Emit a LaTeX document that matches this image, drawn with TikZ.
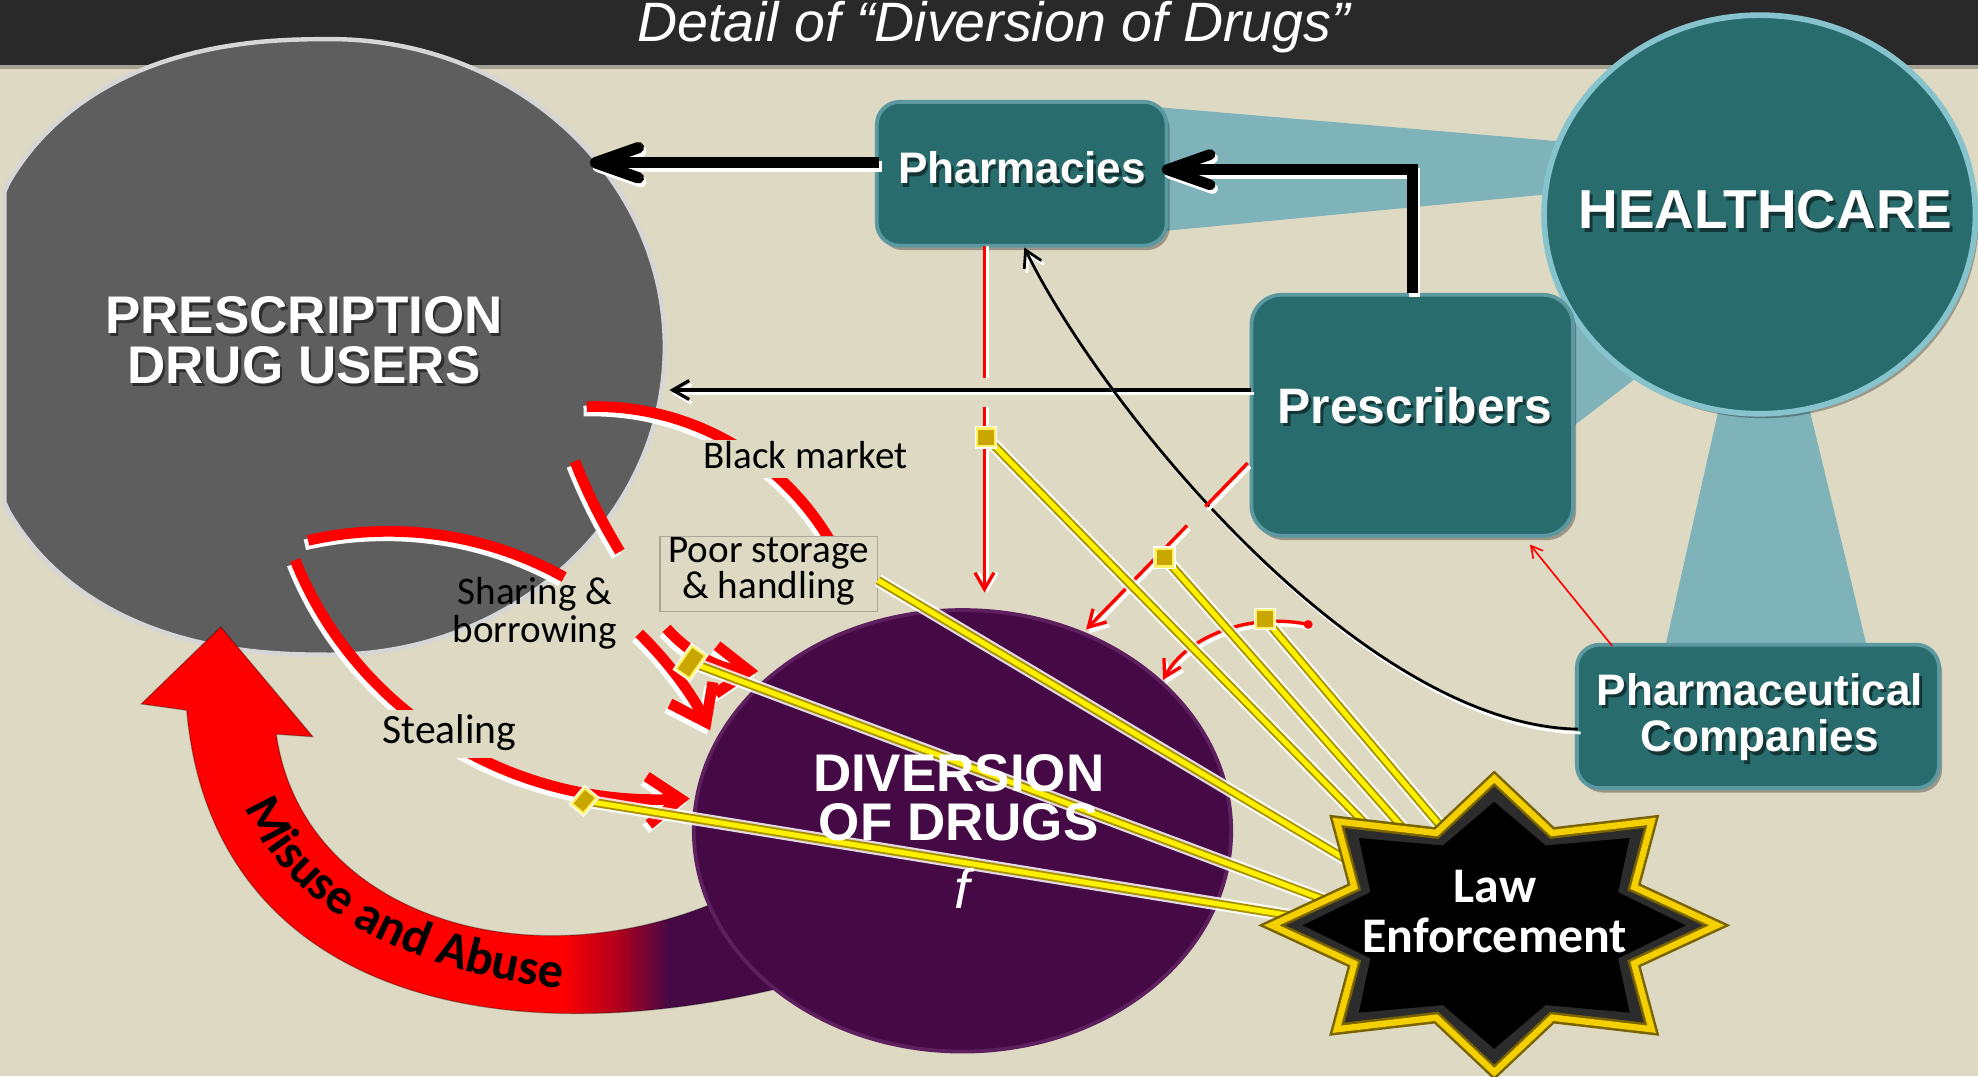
\documentclass[tikz,border=0pt]{standalone}
\usepackage{fontspec}
\setmainfont{Liberation Sans}
\newfontfamily\calfont{Carlito}
\usetikzlibrary{shapes.geometric,arrows.meta,decorations.text}
\definecolor{bgc}{HTML}{DDD9C3}
\definecolor{barc}{HTML}{292929}
\definecolor{boxc}{HTML}{286C6E}
\definecolor{boxedge}{HTML}{5B98A0}
\definecolor{hcedge}{HTML}{86C3CC}
\definecolor{lteal}{HTML}{7DB3B9}
\definecolor{greyc}{HTML}{5E5E5E}
\definecolor{greyedge}{HTML}{D6D6D6}
\definecolor{purc}{HTML}{450945}
\definecolor{puredge}{HTML}{5E1F5E}
\definecolor{redc}{HTML}{FF0000}
\definecolor{midred}{HTML}{B0001E}
\definecolor{ydark}{HTML}{A89200}
\definecolor{ylight}{HTML}{FFF000}
\definecolor{sqc}{HTML}{C9A700}
\definecolor{sqedge}{HTML}{FFF26A}
\definecolor{staredge}{HTML}{F5D000}
\definecolor{stardark}{HTML}{7A6400}
\definecolor{starbevel}{HTML}{2C2C2C}
\definecolor{lblbox}{HTML}{A9A696}
\newcommand\shtext[4]{%
  \node[#3,text=black,opacity=0.5,xshift=2pt,yshift=-2.5pt] (#1sh) at #2 {#4};
  \node[#3] (#1) at #2 {#4};}
\def\starpath{plot[samples at={0,...,15}] ({1184.5+176.5*(1-0.32*mod(\x,2))*cos(\x*22.5)},{733.5+116.5*(1-0.32*mod(\x,2))*sin(\x*22.5)}) -- cycle}
\def\starinner{plot[samples at={0,...,15}] ({1184.5+0.86*176.5*(1-0.3*mod(\x,2))*cos(\x*22.5)},{733.5+0.84*116.5*(1-0.3*mod(\x,2))*sin(\x*22.5)}) -- cycle}
\def\misusepath{(148,563) .. controls (168,790) and (400,845) .. (650,775) -- (590,705) .. controls (430,785) and (240,730) .. (219,582) -- (248,584) -- (175,497) -- (112,558) -- cycle}
\def\greypath{(262,31) arc[start angle=-90,end angle=90,x radius=265,y radius=244]
  -- plot[domain=90:180,samples=45,variable=\t] ({max(3.5,262-285*(abs(cos(\t))+0.0001)^0.85)},{275+244*(abs(sin(\t))+0.0001)^0.85})
  -- plot[domain=180:270,samples=45,variable=\t] ({max(3.5,262-285*(abs(cos(\t))+0.0001)^0.85)},{275-244*(abs(sin(\t))+0.0001)^0.85}) -- cycle}
\begin{document}
\begin{tikzpicture}[x=1pt,y=-1pt,
  tbox/.style={rectangle,rounded corners=18pt,fill=boxc,draw=boxedge,line width=3pt,inner sep=0pt,
    preaction={fill=black,opacity=0.3,transform canvas={xshift=2.5pt,yshift=-3.5pt}}},
  rarc/.style={draw=redc,line width=8.5pt},
  rsh/.style={draw=white,line width=8.5pt,transform canvas={xshift=-2.5pt,yshift=-3.5pt}},
  bigtip/.style={-{Straight Barb[length=26pt,width=38pt]}},
  thk/.style={draw=black,line width=9pt},
  thktip/.style={-{Straight Barb[length=34pt,width=24pt,round]}},
  blk/.style={draw=black,line width=2.6pt},
  rthin/.style={draw=redc,line width=2.6pt},
  wsh/.style={draw=white,transform canvas={xshift=2pt,yshift=-3pt}},
  wshr/.style={draw=white,transform canvas={xshift=2.5pt}},
  thintip/.style={-{Straight Barb[length=13pt,width=15pt]}},
  ylw/.style={draw=ydark,line width=7pt,preaction={draw=white,opacity=0.85,line width=10.5pt},postaction={draw=ylight,line width=4pt}},
  ysq/.style={rectangle,inner sep=0pt,minimum size=14pt,fill=sqc,draw=sqedge,line width=1.8pt,preaction={draw=white,line width=4pt}},
  lbl/.style={inner sep=0pt,font=\calfont\fontsize{31}{31}\selectfont}
  ]
\useasboundingbox (0,0) rectangle (1568,853);
\fill[bgc] (0,0) rectangle (1568,853);
\fill[barc] (0,0) rectangle (1568,51.7);
\fill[black,opacity=0.25] (0,51.7) rectangle (1568,54.5);
\node[anchor=base,text=white,inner sep=0pt,font=\itshape\fontsize{44}{44}\selectfont] (title) at (787.5,33) {Detail of “Diversion of Drugs”};

% light teal connectors of HEALTHCARE
\fill[lteal] (900,83.4) -- (1270,114.9) -- (1270,149.9) -- (900,185.3) -- cycle;
\fill[lteal] (1200,262) -- (1320,240) -- (1320,282) -- (1200,374) -- cycle;
\fill[lteal] (1367.9,300) -- (1428.5,300) -- (1482.9,525) -- (1317.3,525) -- cycle;

\node[ellipse,fill=boxc,draw=hcedge,line width=4.5pt,inner sep=0pt,minimum width=342pt,minimum height=316pt,
  preaction={fill=black,opacity=0.3,transform canvas={xshift=2.5pt,yshift=-3.5pt}}] (hc) at (1395,170) {};
\node[tbox,minimum width=229.7pt,minimum height=114pt] (pharm) at (809.9,137.75) {};
\node[tbox,rounded corners=24pt,minimum width=255pt,minimum height=191pt] (pres) at (1119.5,329.2) {};
\node[tbox,minimum width=287pt,minimum height=113.7pt] (pco) at (1393.5,567.9) {};

% prescription drug users
\path[fill=greyc,draw=greyedge,line width=3.5pt] \greypath;
\coordinate (pdu) at (262,275);

% misuse and abuse arrow
\begin{scope}
\clip \misusepath;
\fill[redc] (100,480) rectangle (446,860);
\shade[left color=redc,right color=midred] (445,480) rectangle (491,860);
\shade[left color=midred,right color=purc] (490,480) rectangle (531,860);
\fill[purc] (530,480) rectangle (660,860);
\end{scope}
\draw[black,opacity=0.3,line width=1pt] \misusepath;
\path[decorate,decoration={text along path,text={|\calfont\bfseries\fontsize{40}{40}\selectfont|Misuse and Abuse}}] (195,640) .. controls (230,735) and (370,792) .. (530,787);

% thick red arcs
\draw[rsh] (465.1,322.4) arc[start angle=-91.8,end angle=-30,radius=216];
\draw[rarc] (465.1,322.4) arc[start angle=-91.8,end angle=-30,radius=216];
\draw[rsh] (455.7,365.7) .. controls (466,392) and (478,415) .. (491.4,437.3);
\draw[rarc] (455.7,365.7) .. controls (466,392) and (478,415) .. (491.4,437.3);
\draw[rsh,bigtip] (528.4,498.1) .. controls (548,520) and (572,531) .. (601,532);
\draw[rarc,bigtip] (528.4,498.1) .. controls (548,520) and (572,531) .. (601,532);
\draw[rsh] (244.2,428.4) arc[start angle=-102.9,end angle=-60.8,radius=285.5];
\draw[rarc] (244.2,428.4) arc[start angle=-102.9,end angle=-60.8,radius=285.5];
\draw[rsh,bigtip] (506.7,502.1) arc[start angle=-45.8,end angle=-26.6,radius=285.5];
\draw[rarc,bigtip] (506.7,502.1) arc[start angle=-45.8,end angle=-26.6,radius=285.5];
\draw[rsh,bigtip] (234,444) .. controls (280,560) and (400,640) .. (546.7,633);
\draw[rarc,bigtip] (234,444) .. controls (280,560) and (400,640) .. (546.7,633);

% labels of arcs
\node[lbl,anchor=base,fill=bgc,text height=22.4pt,text depth=8pt] (bm) at (638.5,371) {Black market};
\node[lbl,anchor=base,fill=bgc,text height=26.3pt,text depth=11.7pt,font=\calfont\fontsize{33}{33}\selectfont] (st) at (356.2,589.3) {Stealing};
\node[rectangle,draw=lblbox,line width=1pt,fill=bgc,minimum width=172.6pt,minimum height=59.5pt,inner sep=0pt] (poorbox) at (609.4,455.15) {};
\node[lbl,align=center,font=\calfont\fontsize{31}{29.1}\selectfont] (poor) at (609.4,452.9) {Poor storage\\\& handling};
\node[lbl,align=center,font=\calfont\fontsize{31}{29.7}\selectfont] (sb) at (424,486.1) {Sharing \&\\borrowing};

% diversion of drugs
\node[ellipse,fill=purc,draw=puredge,line width=3pt,inner sep=0pt,minimum width=426pt,minimum height=350pt] (div) at (763,658.6) {};

% black connectors
\coordinate (pharmW) at (697,129);
\coordinate (pduA) at (467.6,129);
\draw[thk,wsh,thktip] (pharmW) -- (pduA);
\draw[thk,thktip] (pharmW) -- (pduA);
\coordinate (presTop) at (1119.5,134.5);
\coordinate (pharmE) at (921,134.5);
\draw[thk,line width=8.5pt,wsh,thktip] (pres.north) -- (presTop) -- (pharmE);
\draw[thk,line width=8.5pt,thktip] (pres.north) -- (presTop) -- (pharmE);
\coordinate (presW) at (992,309.2);
\coordinate (pduB) at (530.7,309.2);
\draw[blk,wsh,thintip] (presW) -- (pduB);
\draw[blk,thintip] (presW) -- (pduB);
\coordinate (pcoW) at (1251,578);
\coordinate (pharmS) at (812,196.2);
\draw[blk,line width=2.2pt,wsh,thintip] (pcoW) .. controls (1080,575) and (875,325) .. (pharmS);
\draw[blk,line width=2.2pt,thintip] (pcoW) .. controls (1080,575) and (875,325) .. (pharmS);

% thin red connectors
\coordinate (pharmB) at (780.4,195);
\coordinate (gapE1) at (780.4,300);
\coordinate (gapE2) at (780.4,322.4);
\coordinate (divTop) at (780.4,469.6);
\draw[rthin,wshr] (pharmB) -- (gapE1);
\draw[rthin] (pharmB) -- (gapE1);
\draw[rthin,wshr,thintip] (gapE2) -- (divTop);
\draw[rthin,thintip] (gapE2) -- (divTop);
\coordinate (presL) at (989,367);
\coordinate (gapF1) at (955.5,401.5);
\coordinate (gapF2) at (941,416.5);
\coordinate (divF) at (861,499);
\draw[rthin,wsh] (presL) -- (gapF1);
\draw[rthin] (presL) -- (gapF1);
\draw[rthin,wsh,thintip] (gapF2) -- (divF);
\draw[rthin,thintip] (gapF2) -- (divF);
\coordinate (curveP) at (1037,495);
\coordinate (divG) at (922,539);
\draw[rthin,wsh,thintip] (curveP) .. controls (990,485) and (940,505) .. (divG);
\draw[rthin,thintip] (curveP) .. controls (990,485) and (940,505) .. (divG);
\fill[redc] (curveP) circle[radius=3.5];
\coordinate (pcoN) at (1278,512);
\coordinate (presB) at (1212.8,431.7);
\draw[draw=redc,line width=1.3pt,-{Straight Barb[length=9pt,width=10pt]}] (pcoN) -- (presB);

% yellow law enforcement links
\coordinate (s1) at (781.7,346.6);
\coordinate (s2) at (923,442);
\coordinate (s3) at (1002.8,490.8);
\coordinate (s4) at (547.5,525);
\coordinate (s5) at (463,634.8);
\coordinate (poorE) at (696,460);
\coordinate (e1) at (1090,661);
\coordinate (e2) at (1118,663);
\coordinate (e3) at (1148,662);
\coordinate (e4) at (1080,689);
\coordinate (e5) at (1060,717);
\coordinate (e6) at (1030,727);
\draw[ylw] (s1) -- (e1);
\draw[ylw] (s2) -- (e2);
\draw[ylw] (s3) -- (e3);
\draw[ylw] (poorE) -- (e4);
\draw[ylw] (s4) -- (e5);
\draw[ylw] (s5) -- (e6);
\node[ysq] (sq1) at (s1) {};
\node[ysq] (sq2) at (s2) {};
\node[ysq] (sq3) at (s3) {};
\node[ysq,rotate=-35,minimum width=13pt,minimum height=22pt] (sq4) at (s4) {};
\node[ysq,rotate=-40,minimum width=12pt,minimum height=16pt] (sq5) at (s5) {};

% law enforcement star
\path[fill=starbevel,draw=stardark,line width=9pt] \starpath;
\path[fill=black] \starinner;
\path[draw=staredge,line width=5pt] \starpath;
\node[align=center,text=white,inner sep=0pt,font=\calfont\bfseries\fontsize{39.5}{39.6}\selectfont] (law) at (1185,722.2) {Law\\Enforcement};

% texts
\shtext{pdutxt}{(241,269.6)}{align=center,text=white,inner sep=0pt,font=\bfseries\fontsize{42}{40}\selectfont}{PRESCRIPTION\\DRUG USERS}
\shtext{pharmtxt}{(810.2,145.8)}{anchor=base,text=white,inner sep=0pt,font=\bfseries\fontsize{35}{35}\selectfont}{Pharmacies}
\shtext{prestxt}{(1121.5,335.5)}{anchor=base,text=white,inner sep=0pt,font=\bfseries\fontsize{39.5}{39.5}\selectfont}{Prescribers}
\shtext{hctxt}{(1399.5,181.5)}{anchor=base,text=white,inner sep=0pt,font=\bfseries\fontsize{43.5}{43.5}\selectfont}{HEALTHCARE}
\shtext{pcotxt}{(1395,568.5)}{align=center,text=white,inner sep=0pt,font=\bfseries\fontsize{35}{37}\selectfont}{Pharmaceutical\\Companies}
\node[align=center,text=white,inner sep=0pt,font=\bfseries\fontsize{42}{39.4}\selectfont] (divtxt) at (760,632.3) {DIVERSION\\OF DRUGS};
\node[anchor=base,text=white,inner sep=0pt,font=\itshape\fontsize{44}{44}\selectfont] (ftxt) at (763,720) {f};
\end{tikzpicture}
\end{document}
